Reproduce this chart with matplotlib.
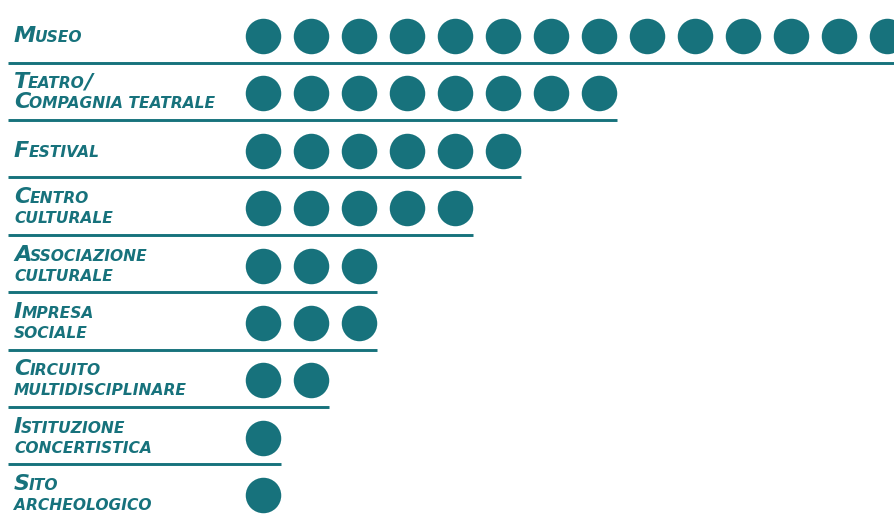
import matplotlib.pyplot as plt
from matplotlib.font_manager import FontProperties

categories = [
    ["Museo"],
    ["Teatro/", "Compagnia teatrale"],
    ["Festival"],
    ["Centro", "culturale"],
    ["Associazione", "culturale"],
    ["Impresa", "sociale"],
    ["Circuito", "multidisciplinare"],
    ["Istituzione", "concertistica"],
    ["Sito", "archeologico"],
]
counts = [14, 8, 6, 5, 3, 3, 2, 1, 1]

teal = "#17727c"
W, H = 895, 516
fig = plt.figure(figsize=(W / 100, H / 100), dpi=100)
ax = fig.add_axes([0, 0, 1, 1])
ax.set_axis_off()

# one x unit = one dot pitch (48 px), one y unit = one row (57.4 px)
x0, pitch = 263, 48
y0, row = 36, 57.4
ax.set_xlim(-x0 / pitch, (W - x0) / pitch)
ax.set_ylim((H - y0) / row, -y0 / row)

for r, n in enumerate(counts):
    xs = list(range(n))
    ax.scatter(xs, [r] * n, s=(35.5 * 0.72) ** 2, color=teal, linewidths=0,
               zorder=3, clip_on=True)
    if r < len(counts) - 1:
        ax.plot([(8 - x0) / pitch, n - 1 + 18 / pitch], [r + 0.465, r + 0.465],
                color=teal, lw=2.1, solid_capstyle="butt")

fig.canvas.draw()
renderer = fig.canvas.get_renderer()
big = FontProperties(family="DejaVu Sans", weight="bold",
                     style="oblique", size=16)
small = FontProperties(family="DejaVu Sans", weight="bold",
                       style="oblique", size=11.2)


def small_caps(x_px, base_px, text):
    # lowercase letters become small capitals, everything else full size
    runs = []
    for ch in text:
        is_small = ch.islower() or ch == " "
        if runs and runs[-1][0] == is_small:
            runs[-1][1] += ch.upper()
        else:
            runs.append([is_small, ch.upper()])
    x = x_px
    for is_small, s in runs:
        t = fig.text(x / W, 1 - base_px / H, s, color=teal, ha="left",
                     va="baseline", fontproperties=small if is_small else big)
        x += t.get_window_extent(renderer).width - 1


for r, lines in enumerate(categories):
    cy = y0 + r * row
    if len(lines) == 1:
        small_caps(14, cy + 6, lines[0])
    else:
        small_caps(14, cy - 5, lines[0])
        small_caps(14, cy + 15, lines[1])

fig.savefig("out.png", dpi=100)
